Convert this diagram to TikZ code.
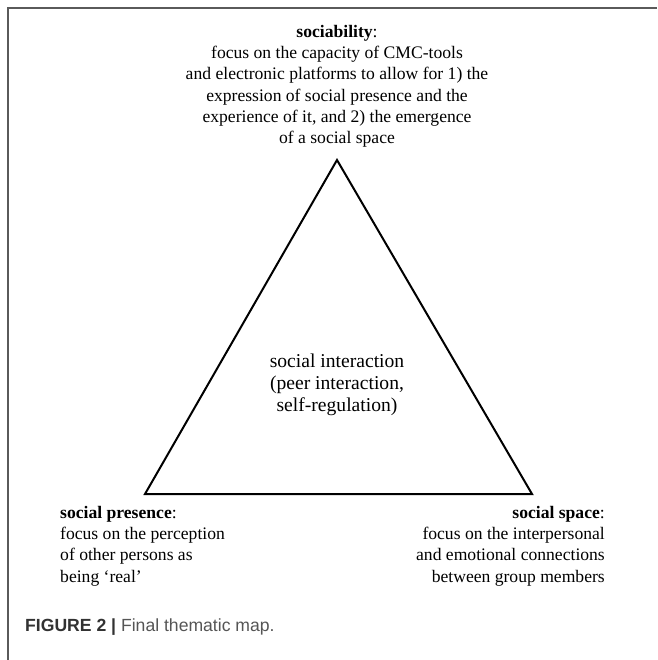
\documentclass[tikz,border=0pt]{standalone}
\usepackage{fontspec}
\setmainfont{Liberation Serif}
\newfontfamily\capfont{Liberation Sans}
\usepackage{tikz}
\definecolor{framegray}{RGB}{90,90,90}
\definecolor{capdark}{RGB}{50,50,50}
\definecolor{caplight}{RGB}{85,85,85}
\tikzstyle{theme} = [inner sep=0pt, font=\fontsize{17.6}{21.2}\selectfont]
\tikzstyle{core} = [inner sep=0pt, font=\fontsize{19.6}{22}\selectfont]
\tikzstyle{edge} = [draw=black, line width=2pt, line join=miter]
\tikzstyle{figcaption} = [inner sep=0pt, font=\capfont\fontsize{17.6}{20}\selectfont]
\newcommand{\term}[1]{\textbf{#1}:}

\begin{document}
\begin{tikzpicture}[x=1pt,y=-1pt]%
				\useasboundingbox (0,0) rectangle (657,660);
				\draw[framegray, line width=1.5pt] (8,660) -- (8,8) -- (657,8);
				\coordinate (apex) at (337,160);
				\coordinate (pres) at (145,494);
				\coordinate (space) at (532,494);
				\draw[edge] (apex) -- (pres) -- (space) -- cycle;
				\node [theme, anchor=north, align=center] (soc) at (337,25) {\term{sociability}\\
	focus on the capacity of CMC-tools\\
	and electronic platforms to allow for 1) the\\
	expression of social presence and the\\
	experience of it, and 2) the emergence\\
	of a social space};
				\node [core, align=center] (inter) at (337,385) {social interaction\\
	(peer interaction,\\
	self-regulation)};
				\node [theme, anchor=north west, align=left] (presence) at (60,506) {\term{social presence}\\
	focus on the perception\\
	of other persons as\\
	being `real'};
				\node [theme, anchor=north east, align=right] (socspace) at (605,506) {\term{social space}\\
	focus on the interpersonal\\
	and emotional connections\\
	between group members};
				\node [figcaption, anchor=base west] (cap) at (25,631) {\textcolor{capdark}{\textbf{FIGURE 2 |}} \textcolor{caplight}{Final thematic map.}};
	\end{tikzpicture}
\end{document}
